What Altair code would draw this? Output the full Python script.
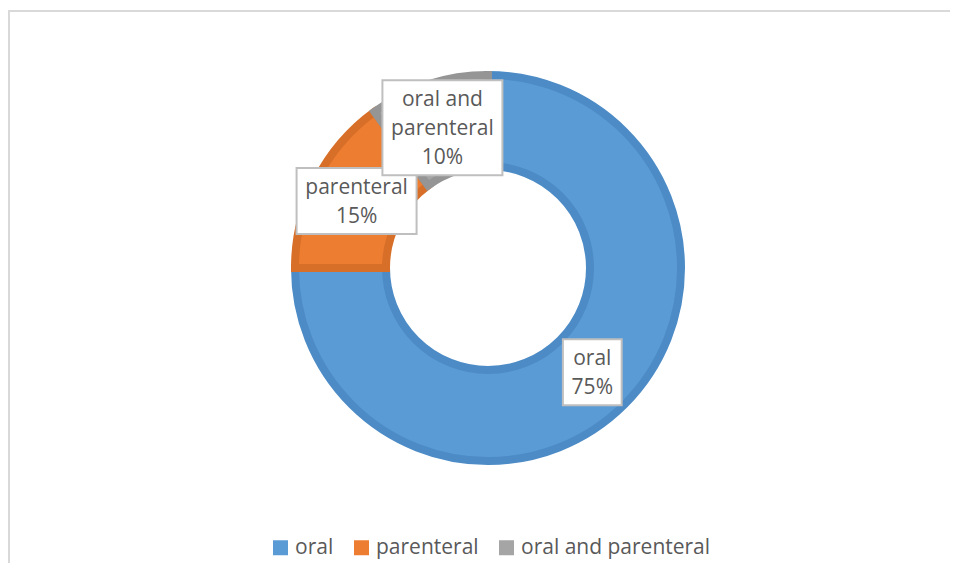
import textwrap
import altair as alt
import pandas as pd

# ---- data ----
categories = ["oral", "parenteral", "oral and parenteral"]
values = [75, 15, 10]          # percent
order = [1, 2, 3]

# ---- styling (kept out of the data) ----
fill_colors = ["#5B9BD5", "#ED7D31", "#A5A5A5"]
stroke_colors = ["#4C8BC6", "#D86F28", "#959595"]
TEXT = "#595959"
FONT = "Open Sans"

W, H = 942, 553
CX, CY = 480, 258
R_OUT, R_IN = 193, 102
SW = 8
R_LABEL = (R_OUT + R_IN) / 2

LINE_H = 29

labels = ["\n".join(textwrap.wrap(c, 10)) + "\n" + f"{v}%" for c, v in zip(categories, values)]
df = pd.DataFrame({
    "category": categories,
    "value": values,
    "order": order,
    "label": labels,
})
df["nlines"] = df["label"].str.count("\n") + 1
df["maxlen"] = df["label"].apply(lambda s: max(len(x) for x in s.split("\n")))

arcs = alt.Chart(df).mark_arc(
    outerRadius=R_OUT, innerRadius=R_IN, strokeWidth=SW
).encode(
    theta=alt.Theta("value:Q", stack=True),
    order=alt.Order("order:Q"),
    fill=alt.Fill(
        "category:N",
        sort=categories,
        scale=alt.Scale(domain=categories, range=fill_colors),
        legend=alt.Legend(
            orient="none", legendX=262, legendY=527, direction="horizontal",
            title=None, symbolType="square", symbolSize=225, symbolStrokeWidth=0,
            labelFontSize=21, labelFont=FONT, labelColor=TEXT, labelOffset=4,
            labelLimit=400, columnPadding=17, padding=0,
        ),
    ),
    stroke=alt.Stroke(
        "category:N",
        scale=alt.Scale(domain=categories, range=stroke_colors),
        legend=None,
    ),
    x=alt.value(CX),
    y=alt.value(CY),
)

base = alt.Chart(df).transform_joinaggregate(
    total="sum(value)"
).transform_window(
    cum="sum(value)", sort=[alt.SortField("order")], frame=[None, 0]
).transform_calculate(
    mid="(datum.cum - datum.value / 2) / datum.total * 2 * PI"
).transform_calculate(
    lx=f"{CX} + {R_LABEL} * sin(datum.mid)",
    ly=f"{CY} - {R_LABEL} * cos(datum.mid)",
    bw="datum.maxlen * 10.2 + 18",
    bh=f"datum.nlines * {LINE_H} + 8",
).transform_calculate(
    bx1="datum.lx - datum.bw / 2",
    bx2="datum.lx + datum.bw / 2",
    by1="datum.ly - datum.bh / 2",
    by2="datum.ly + datum.bh / 2",
    ty=f"datum.ly - (datum.nlines - 1) * {LINE_H} / 2 + 1",
)

boxes = base.mark_rect(fill="white", stroke="#BFBFBF", strokeWidth=2).encode(
    x=alt.X("bx1:Q", scale=None, axis=None),
    x2="bx2:Q",
    y=alt.Y("by1:Q", scale=None, axis=None),
    y2="by2:Q",
)

texts = base.mark_text(
    font=FONT, fontSize=21, color=TEXT, align="center", baseline="middle",
    lineBreak="\n", lineHeight=LINE_H,
).encode(
    x=alt.X("lx:Q", scale=None, axis=None),
    y=alt.Y("ty:Q", scale=None, axis=None),
    text="label:N",
)

dummy = alt.Data(values=[{"a": 1}])
left_rule = alt.Chart(dummy).mark_rule(color="#D9D9D9", strokeWidth=2).encode(
    x=alt.value(1), y=alt.value(0), y2=alt.value(H)
)
top_rule = alt.Chart(dummy).mark_rule(color="#D9D9D9", strokeWidth=2).encode(
    x=alt.value(0), x2=alt.value(W), y=alt.value(1)
)

chart = alt.layer(left_rule, top_rule, arcs, boxes, texts).properties(
    width=W, height=H,
    autosize=alt.AutoSizeParams(type="none"),
    padding={"left": 0, "top": 2, "right": 0, "bottom": 0},
).resolve_scale(fill="independent", stroke="independent").configure_view(strokeWidth=0)

chart.save("out.html", embed_options={"renderer": "svg", "actions": False})
